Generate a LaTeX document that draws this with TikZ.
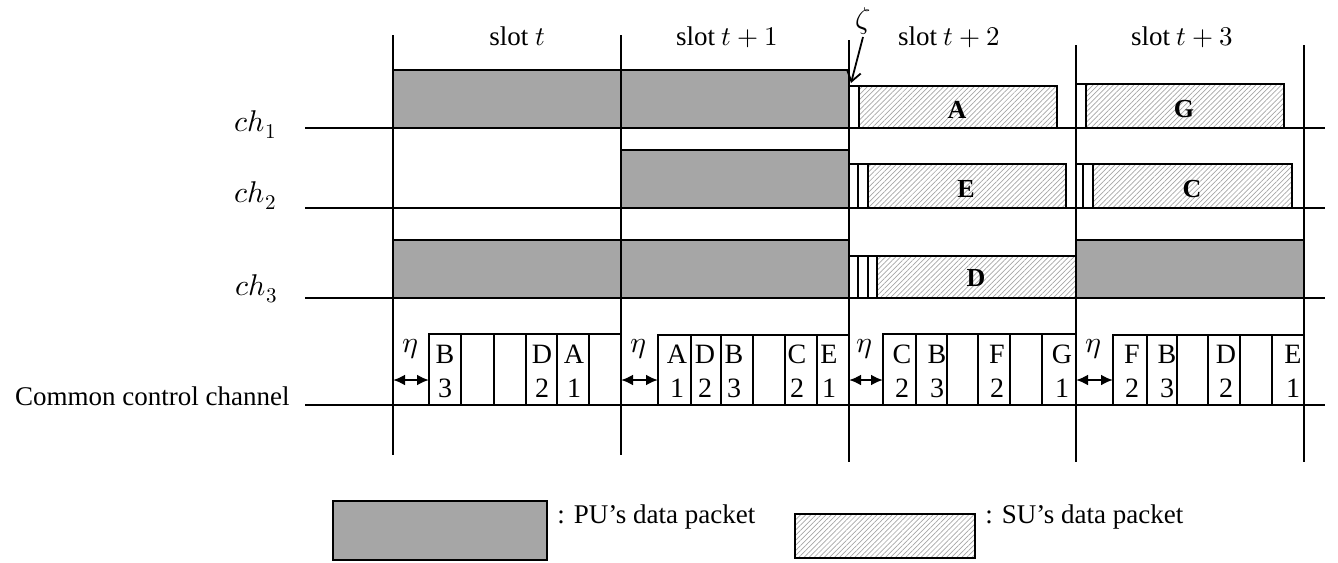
\documentclass[tikz,border=0pt]{standalone}
\usepackage{fontspec}
\usepackage{unicode-math}
\setmainfont{Liberation Serif}
\setmathfont{Latin Modern Math}
\usetikzlibrary{patterns.meta,arrows.meta}
\definecolor{pugray}{RGB}{166,166,166}
\begin{document}
\begin{tikzpicture}[x=0.5pt,y=-0.5pt,
  chline/.style={line width=1pt},
  slotline/.style={line width=1pt},
  pu/.style={fill=pugray,draw=black,line width=0.9pt},
  su/.style={pattern={Lines[angle=45,distance=1.8pt,line width=0.35pt]},pattern color=gray!70,draw=black,line width=0.9pt},
  box/.style={draw=black,line width=0.9pt},
  txt/.style={font=\fontsize{13.5}{16}\selectfont,inner sep=0pt},
  mtxt/.style={font=\fontsize{15}{18}\selectfont,inner sep=0pt},
  cell/.style={font=\fontsize{14}{16}\selectfont,inner sep=0pt,anchor=base},
  pk/.style={font=\fontsize{13}{15}\selectfont\bfseries,inner sep=0pt},
  etaarrow/.style={{Latex[length=6pt,width=5.5pt]}-{Latex[length=6pt,width=5.5pt]},line width=1.4pt},
]
\useasboundingbox (0,0) rectangle (1338,562);

% PU packets
\draw[pu] (393,70) rectangle (849,128);
\draw[pu] (621,150) rectangle (849,208);
\draw[pu] (393,240) rectangle (849,298);
\draw[pu] (1076,240) rectangle (1304,298);

% SU packets, slot t+2
\draw[box] (849,86) rectangle (859,128);
\draw[su] (859,86) rectangle (1057,128);
\draw[box] (849,164) rectangle (858,208);
\draw[box] (858,164) rectangle (868,208);
\draw[su] (868,164) rectangle (1066,208);
\draw[box] (849,256) rectangle (858,298);
\draw[box] (858,256) rectangle (868,298);
\draw[box] (868,256) rectangle (877,298);
\draw[su] (877,256) rectangle (1076,298);
% SU packets, slot t+3
\draw[box] (1076,84) rectangle (1086,128);
\draw[su] (1086,84) rectangle (1284,128);
\draw[box] (1076,164) rectangle (1083,208);
\draw[box] (1083,164) rectangle (1093,208);
\draw[su] (1093,164) rectangle (1292,208);

\node[pk] (pA) at (957,110) {A};
\node[pk] (pE) at (966,189) {E};
\node[pk] (pD) at (976,278) {D};
\node[pk] (pG) at (1184,109) {G};
\node[pk] (pC) at (1192,189) {C};

% control channel mini-slots
\draw[box] (429,405) -- (429,334) -- (621,334);
\foreach \x in {461,494,526,557,589} \draw[box] (\x,334) -- (\x,405);
\draw[box] (658,405) -- (658,335) -- (849,335);
\foreach \x in {691,721,753,785,817} \draw[box] (\x,335) -- (\x,405);
\draw[box] (883,405) -- (883,334) -- (1076,334);
\foreach \x in {916,947,978,1010,1042} \draw[box] (\x,334) -- (\x,405);
\draw[box] (1113,405) -- (1113,335) -- (1304,335);
\foreach \x in {1147,1177,1208,1240,1272} \draw[box] (\x,335) -- (\x,405);

\foreach \x/\l/\d [count=\i] in {445/B/3,542/D/2,574/A/1,
  677/A/1,705/D/2,734/B/3,797/C/2,829/E/1,
  902/C/2,937/B/3,997/F/2,1062/G/1,
  1132/F/2,1167/B/3,1226/D/2,1293/E/1}{
  \node[cell] (l\i) at (\x,363) {\l};
  \node[cell] (d\i) at (\x,397) {\d};
}

% eta gaps
\foreach \s/\b/\e [count=\i] in {393/429/410,621/658/638,849/883/864,1076/1113/1093}{
  \node[mtxt,anchor=base] (eta\i) at (\e,352) {$\eta$};
  \coordinate (ea\i) at (\s,380);
  \coordinate (eb\i) at (\b,380);
  \draw[etaarrow] (ea\i) -- (eb\i);
}

% channel lines
\draw[chline] (305,128) -- (1325,128);
\draw[chline] (305,208) -- (1325,208);
\draw[chline] (305,298) -- (1325,298);
\draw[chline] (305,405) -- (1325,405);

% slot boundaries
\draw[slotline] (393,35) -- (393,455);
\draw[slotline] (621,35) -- (621,455);
\draw[slotline] (849,40) -- (849,462);
\draw[slotline] (1076,45) -- (1076,462);
\draw[slotline] (1304,45) -- (1304,462);

% labels
\node[txt,anchor=base] (st0) at (517,46) {slot $t$};
\node[txt,anchor=base] (st1) at (727,46) {slot $t+1$};
\node[txt,anchor=base] (st2) at (949,46) {slot $t+2$};
\node[txt,anchor=base] (st3) at (1182,46) {slot $t+3$};

\node[mtxt,anchor=base east] (ch1) at (277,131) {$ch_1$};
\node[mtxt,anchor=base east] (ch2) at (277,202) {$ch_2$};
\node[mtxt,anchor=base east] (ch3) at (278,295) {$ch_3$};
\node[txt,anchor=base east] (ccc) at (290,405) {Common control channel};

% zeta
\node[mtxt] (zeta) at (863,21) {$\zeta$};
\coordinate (zs) at (863,37);
\coordinate (zt) at (851,83);
\draw[line width=0.9pt,-{Straight Barb[length=5pt,width=7pt]}] (zs) -- (zt);

% legend
\draw[pu,line width=1.2pt] (333,501) rectangle (547,560);
\node[txt,anchor=base west] (lpu) at (557,523) {: PU’s data packet};
\draw[su,line width=1.2pt] (795,514) rectangle (975,558);
\node[txt,anchor=base west] (lsu) at (985,523) {: SU’s data packet};
\end{tikzpicture}
\end{document}
